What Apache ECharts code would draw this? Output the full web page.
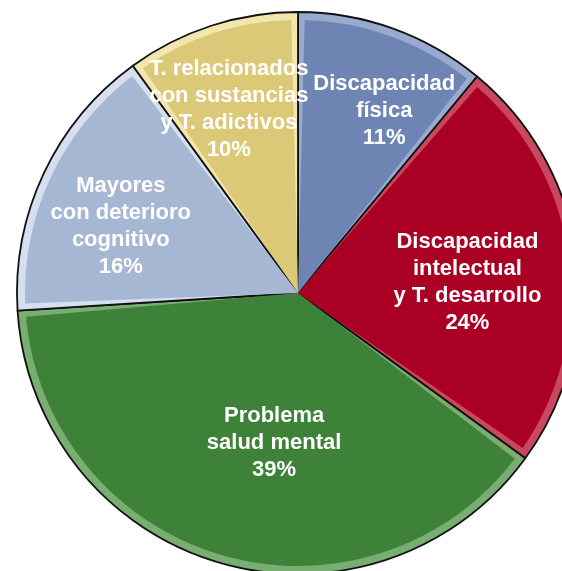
<!DOCTYPE html>
<html>
<head>
<meta charset="utf-8">
<script src="https://cdn.jsdelivr.net/npm/echarts@6/dist/echarts.min.js"></script>
<style>
html,body{margin:0;padding:0;background:#fff;}
#chart{width:562px;height:571px;}
</style>
</head>
<body>
<div id="chart"></div>
<script>
// Data
var categories = [
  "Discapacidad\nfísica",
  "Discapacidad\nintelectual\ny T. desarrollo",
  "Problema\nsalud mental",
  "Mayores\ncon deterioro\ncognitivo",
  "T. relacionados\ncon sustancias\ny T. adictivos"
];
var values = [11, 24, 39, 16, 10];

// Styles
var baseColors  = ["#6E85B4", "#AA0024", "#3E823A", "#A6B7D4", "#DBC977"];
var bevelColors = ["#98AACD", "#C9485F", "#79AE72", "#D6DFEE", "#F2E6AE"];
var labelOffsets = [[39, -51], [31, 7], [15, 16], [-51, -7], [-26, -51]];

var cx = 298, cy = 293, R = 281;

var backData = categories.map(function (c, i) {
  return { name: c, value: values[i], itemStyle: { color: bevelColors[i] } };
});
var frontData = categories.map(function (c, i) {
  return {
    name: c, value: values[i],
    itemStyle: { color: baseColors[i] },
    label: { offset: labelOffsets[i] }
  };
});

var chart = echarts.init(document.getElementById('chart'), null, { renderer: 'canvas' });
chart.setOption({
  animation: false,
  backgroundColor: '#ffffff',
  series: [
    {
      type: 'pie',
      center: [cx, cy],
      radius: R,
      startAngle: 90,
      clockwise: true,
      silent: true,
      label: { show: false },
      labelLine: { show: false },
      itemStyle: { borderColor: '#111111', borderWidth: 1.8 },
      data: backData
    },
    {
      type: 'pie',
      center: [cx, cy],
      radius: R - 8,
      startAngle: 90,
      clockwise: true,
      padAngle: 2.8,
      silent: true,
      labelLine: { show: false },
      itemStyle: { borderWidth: 0 },
      label: {
        show: true,
        position: 'inside',
        color: '#ffffff',
        fontFamily: 'Liberation Sans, Arial, sans-serif',
        fontWeight: 'bold',
        fontSize: 22,
        lineHeight: 27,
        align: 'center',
        formatter: function (p) {
          return p.name + '\n' + Math.round(p.percent) + '%';
        }
      },
      data: frontData
    }
  ]
});
</script>
</body>
</html>
